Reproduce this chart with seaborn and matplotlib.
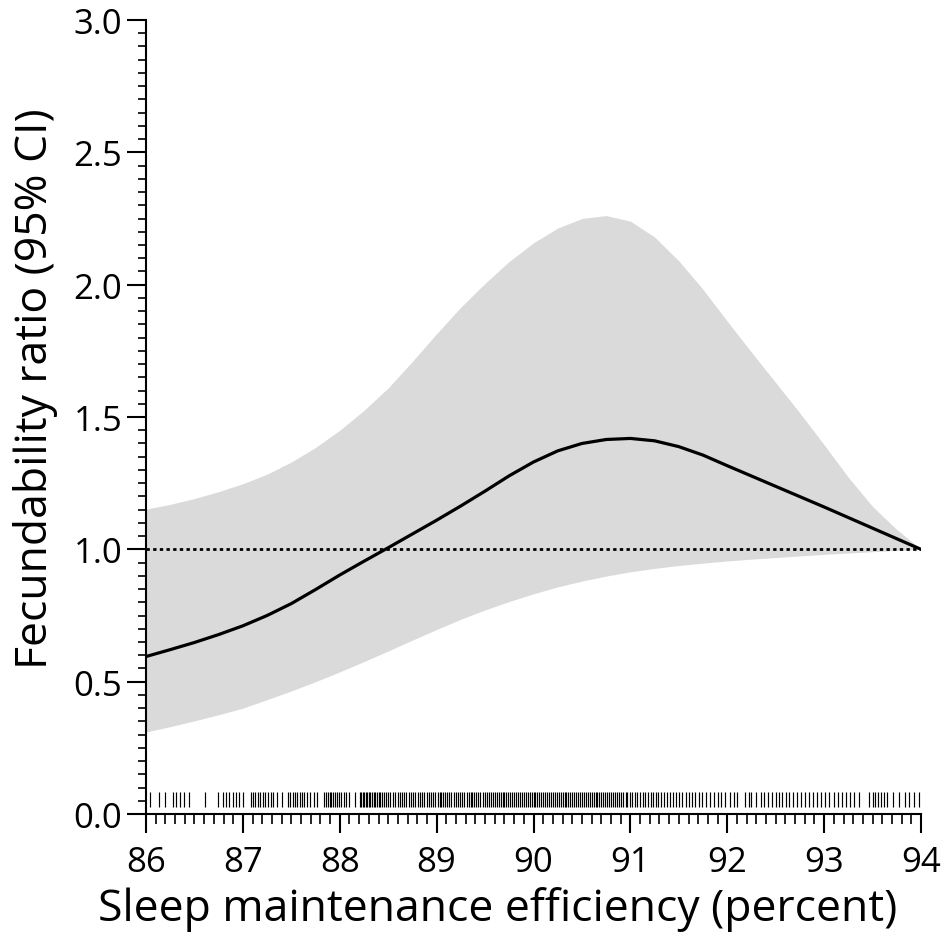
import numpy as np
import pandas as pd
import matplotlib
matplotlib.use("Agg")
import matplotlib.pyplot as plt
import seaborn as sns
from matplotlib.ticker import MultipleLocator

# ---- data ----
x_vals = [86.00, 86.25, 86.50, 86.75, 87.00, 87.25, 87.50, 87.75, 88.00, 88.25, 88.50,
          88.75, 89.00, 89.25, 89.50, 89.75, 90.00, 90.25, 90.50, 90.75, 91.00, 91.25,
          91.50, 91.75, 92.00, 92.25, 92.50, 92.75, 93.00, 93.25, 93.50, 93.75, 94.00]
fr_est = [0.595, 0.621, 0.648, 0.678, 0.711, 0.750, 0.795, 0.848, 0.903, 0.955, 1.006,
          1.058, 1.110, 1.164, 1.220, 1.278, 1.330, 1.372, 1.400, 1.415, 1.419, 1.410,
          1.388, 1.356, 1.316, 1.277, 1.238, 1.199, 1.160, 1.120, 1.080, 1.040, 1.000]
ci_upper = [1.152, 1.170, 1.192, 1.218, 1.248, 1.284, 1.330, 1.385, 1.450, 1.525, 1.610,
            1.710, 1.815, 1.915, 2.005, 2.088, 2.158, 2.214, 2.250, 2.261, 2.240, 2.180,
            2.090, 1.982, 1.862, 1.745, 1.630, 1.515, 1.395, 1.272, 1.162, 1.075, 1.000]
ci_lower = [0.310, 0.330, 0.352, 0.375, 0.400, 0.432, 0.465, 0.500, 0.537, 0.576, 0.616,
            0.657, 0.697, 0.736, 0.771, 0.803, 0.832, 0.858, 0.880, 0.899, 0.915, 0.928,
            0.939, 0.948, 0.956, 0.963, 0.969, 0.975, 0.981, 0.986, 0.991, 0.996, 1.000]

rug_vals = [86.04, 86.13, 86.20, 86.28, 86.31, 86.35, 86.39, 86.44, 86.61, 86.74, 86.79,
            86.83, 86.86, 86.90, 86.93, 86.96, 87.00, 87.08, 87.10, 87.13, 87.16, 87.18,
            87.21, 87.23, 87.26, 87.29, 87.31, 87.35, 87.40, 87.47, 87.49, 87.52, 87.54,
            87.56, 87.59, 87.61, 87.63, 87.66, 87.69, 87.73, 87.76, 87.84, 87.86, 87.88,
            87.90, 87.91, 87.93, 87.95, 87.97, 87.99, 88.01, 88.04, 88.06, 88.10, 88.16,
            88.21, 88.22, 88.24, 88.25, 88.27, 88.28, 88.30, 88.31, 88.33, 88.35, 88.36,
            88.38, 88.40, 88.42, 88.44, 88.46, 88.48, 88.50, 88.52, 88.55, 88.57, 88.60,
            88.62, 88.64, 88.66, 88.68, 88.71, 88.74, 88.76, 88.78, 88.81, 88.83, 88.85,
            88.87, 88.90, 88.92, 88.94, 88.96, 88.98, 89.01, 89.03, 89.05, 89.07, 89.09,
            89.11, 89.13, 89.15, 89.18, 89.20, 89.22, 89.24, 89.26, 89.28, 89.31, 89.33,
            89.35, 89.37, 89.39, 89.41, 89.43, 89.45, 89.48, 89.50, 89.52, 89.54, 89.56,
            89.58, 89.60, 89.62, 89.64, 89.66, 89.68, 89.70, 89.72, 89.74, 89.76, 89.78,
            89.80, 89.82, 89.84, 89.86, 89.88, 89.90, 89.92, 89.94, 89.96, 89.98, 90.00,
            90.02, 90.04, 90.06, 90.08, 90.10, 90.12, 90.14, 90.16, 90.18, 90.20, 90.22,
            90.24, 90.26, 90.28, 90.30, 90.32, 90.34, 90.36, 90.38, 90.40, 90.42, 90.44,
            90.46, 90.48, 90.50, 90.52, 90.54, 90.56, 90.58, 90.60, 90.62, 90.64, 90.66,
            90.68, 90.70, 90.72, 90.74, 90.76, 90.78, 90.80, 90.82, 90.84, 90.86, 90.88,
            90.90, 90.92, 90.95, 90.97, 91.00, 91.02, 91.05, 91.07, 91.10, 91.13, 91.15,
            91.18, 91.21, 91.23, 91.26, 91.29, 91.32, 91.35, 91.38, 91.41, 91.44, 91.47,
            91.50, 91.53, 91.57, 91.60, 91.64, 91.67, 91.71, 91.74, 91.78, 91.82, 91.86,
            91.90, 91.94, 91.98, 92.03, 92.07, 92.10, 92.18, 92.22, 92.25, 92.30, 92.35,
            92.38, 92.42, 92.46, 92.50, 92.53, 92.56, 92.61, 92.64, 92.68, 92.72, 92.76,
            92.80, 92.84, 92.88, 92.93, 92.97, 93.01, 93.05, 93.10, 93.14, 93.18, 93.23,
            93.27, 93.31, 93.36, 93.46, 93.50, 93.53, 93.56, 93.59, 93.62, 93.65, 93.71,
            93.77, 93.83, 93.88, 93.93, 93.98]

x_ticks = [86, 87, 88, 89, 90, 91, 92, 93, 94]
y_ticks = [0.0, 0.5, 1.0, 1.5, 2.0, 2.5, 3.0]
x_label = "Sleep maintenance efficiency (percent)"
y_label = "Fecundability ratio (95% CI)"

df = pd.DataFrame({"sme": x_vals, "fr": fr_est, "lo": ci_lower, "hi": ci_upper})

sns.set_theme(style="ticks")
plt.rcParams['font.family'] = ['Open Sans', 'DejaVu Sans']

fig = plt.figure(figsize=(9.43, 9.45), dpi=100)
ax = fig.add_axes([146/943, 1 - 815/945, 775/943, 794/945])

ax.fill_between(df["sme"], df["lo"], df["hi"], color="#dadada", linewidth=0, zorder=1)
ax.axhline(1.0, color="black", lw=2.0, ls=(0, (1.2, 1.2)), zorder=2)
sns.lineplot(data=df, x="sme", y="fr", color="black", lw=2.3, ax=ax, zorder=3)
ax.vlines(rug_vals, 0.026, 0.083, color="black", lw=0.85, zorder=2)

ax.set_xlim(86, 94)
ax.set_ylim(0, 3.0)
ax.set_xticks(x_ticks)
ax.set_yticks(y_ticks)
ax.set_xticklabels([str(t) for t in x_ticks])
ax.set_yticklabels([f"{t:.1f}" for t in y_ticks])
ax.xaxis.set_minor_locator(MultipleLocator(0.1))
ax.yaxis.set_minor_locator(MultipleLocator(0.05))

for s in ["top", "right"]:
    ax.spines[s].set_visible(False)
for s in ["left", "bottom"]:
    ax.spines[s].set_linewidth(1.5)
    ax.spines[s].set_color("black")

ax.tick_params(axis="x", which="major", direction="out", length=14, width=1.5,
               labelsize=25, pad=8, colors="black")
ax.tick_params(axis="x", which="minor", direction="out", length=7, width=1.2, colors="black")
ax.tick_params(axis="y", which="major", direction="out", length=14, width=1.5,
               labelsize=25, pad=3, colors="black")
ax.tick_params(axis="y", which="minor", direction="out", length=6, width=1.2, colors="black")

ax.set_xlabel(x_label, fontsize=32, color="black", va="center")
ax.set_ylabel(y_label, fontsize=32, color="black", va="center")
ax.xaxis.set_label_coords(0.454, (815 - 910) / 794)
ax.yaxis.set_label_coords(-0.142, 0.5365)

fig.savefig("out.png", dpi=100)
